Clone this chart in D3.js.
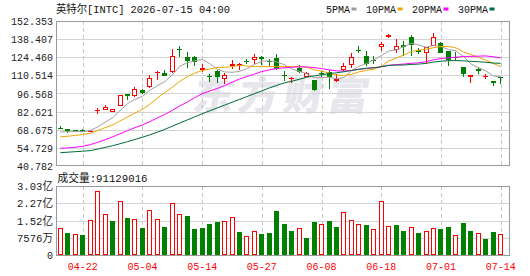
<!DOCTYPE html>
<html lang="zh">
<head>
<meta charset="UTF-8">
<title>英特尔 INTC 日K</title>
<script src="https://d3js.org/d3.v7.min.js"></script>
<style>
  body { margin: 0; background: #fff; }
  svg { display: block; }
  text { font-family: "Liberation Mono", "Noto Sans CJK SC", monospace; font-size: 11px; }
</style>
</head>
<body>
<svg id="chart"></svg>
<script>
const width = 530, height = 276;

// trading days
const dates = ["04-17","04-20","04-21","04-22","04-23","04-24","04-27","04-28","04-29","04-30",
  "05-01","05-04","05-05","05-06","05-07","05-08","05-11","05-12","05-13","05-14",
  "05-15","05-18","05-19","05-20","05-21","05-22","05-26","05-27","05-28","05-29",
  "06-01","06-02","06-03","06-04","06-05","06-08","06-09","06-10","06-11","06-12",
  "06-15","06-16","06-17","06-18","06-22","06-23","06-24","06-25","06-26","06-29",
  "06-30","07-01","07-02","07-06","07-07","07-08","07-09","07-10","07-13","07-14"];

const open = [70.2,69.0,68.3,68.8,67.3,83.0,84.0,82.2,87.1,95.9,
  94.3,99.6,101.4,112.0,112.2,113.0,130.6,124.5,124.8,115.0,
  110.0,114.0,108.1,117.4,117.8,121.3,122.5,124.8,121.6,124.0,
  110.6,107.8,116.4,109.4,107.1,112.0,113.0,106.3,114.3,118.6,
  130.4,125.6,122.4,132.7,139.9,130.4,134.0,140.2,129.8,128.1,
  133.3,135.5,129.2,125.0,116.8,108.9,115.5,109.6,106.3,108.9];
const high = [71.2,69.4,68.5,69.5,68.8,85.5,87.6,84.7,95.6,96.2,
  101.2,100.0,110.5,113.6,114.8,131.0,133.2,128.4,125.3,119.1,
  111.4,114.8,112.4,122.5,120.4,123.0,126.6,125.5,123.0,127.1,
  114.0,109.4,118.7,113.4,107.3,113.5,114.8,111.7,120.0,127.6,
  133.3,129.4,125.6,136.1,142.3,138.6,136.6,141.5,131.5,132.2,
  143.0,136.0,129.5,128.4,117.0,110.9,116.8,111.7,106.5,109.1];
const low = [69.6,66.5,67.9,66.8,67.0,80.7,83.5,82.0,86.8,91.5,
  93.5,96.5,101.0,107.1,110.0,112.6,125.0,116.1,117.4,113.0,
  105.5,104.3,104.0,115.3,114.5,118.9,118.9,118.6,117.4,115.0,
  106.3,105.0,112.7,109.0,98.5,109.6,100.4,105.3,113.5,116.0,
  127.6,117.4,118.9,128.9,139.5,127.6,125.8,125.8,126.6,119.9,
  133.0,127.6,118.1,121.5,109.1,105.0,111.7,108.1,102.7,104.0];
const close = [70.0,67.9,68.1,67.2,67.9,83.5,86.0,84.5,95.3,94.9,
  99.9,96.8,108.4,113.2,110.4,125.6,130.0,121.6,121.0,116.0,
  109.5,108.9,110.7,119.4,119.2,120.9,124.3,123.0,120.9,115.6,
  109.8,108.3,113.3,112.4,99.1,111.5,109.1,107.4,117.6,124.5,
  128.9,119.4,121.6,134.8,141.7,132.8,132.5,134.0,128.8,132.2,
  140.2,128.1,122.5,124.0,111.2,110.7,114.0,110.0,104.3,108.3];

// volume, millions of shares
const volumeM = [118,97.6,92,89,153,280,179,150,236,163,
  157,119,197,157,124,227,179,172,115,119,
  137,146,149,166,102,83,105,93,98,194,
  137,106,118,76,146,135,150,124,188,153,
  135,133,114,236,127,133,106,122,98,106,
  118,115,124,87,141,106,96,71,102,91.129016];

const ma5 = [67.0,67.2,67.3,67.4,68.0,70.9,74.5,77.8,83.4,88.8,
  92.1,94.3,99.1,102.6,105.7,110.9,117.5,120.2,121.7,122.8,
  119.6,115.4,113.2,112.9,113.5,115.8,118.9,121.4,121.7,120.9,
  118.7,115.5,113.6,111.9,108.6,108.9,109.1,107.9,108.9,114.0,
  117.5,119.6,122.4,125.8,129.3,130.1,132.7,135.2,134.0,132.1,
  133.5,132.7,130.4,129.4,125.2,119.3,116.5,114.0,110.0,109.5];
const ma10 = [63.2,63.7,64.3,65.0,65.9,68.0,70.3,72.4,75.4,78.5,
  81.5,84.4,88.4,93.0,97.3,101.5,105.9,109.6,112.2,114.3,
  115.3,116.5,116.7,117.3,118.2,117.7,117.2,117.3,117.3,117.2,
  117.3,117.2,117.5,116.8,114.8,113.8,112.3,110.7,110.4,111.3,
  113.2,114.3,115.2,117.4,121.7,123.8,126.1,128.8,129.9,130.7,
  131.8,132.7,132.8,131.7,128.6,126.4,124.6,122.2,119.7,117.3];
const ma20 = [54.4,54.7,55.2,56.0,57.2,59.0,61.0,63.2,65.6,68.0,
  70.3,72.4,75.0,77.8,80.4,83.6,87.0,90.0,93.3,96.4,
  98.4,100.4,102.6,105.2,107.7,109.6,111.5,113.5,114.7,115.8,
  116.3,116.8,117.1,117.0,116.5,115.8,114.7,114.0,113.8,114.3,
  115.2,115.8,116.3,117.1,118.2,118.8,119.2,119.8,120.2,121.0,
  122.5,123.5,124.0,124.5,125.1,125.1,125.3,125.5,124.8,124.0];
const ma30 = [51.0,51.4,51.8,52.2,52.6,53.8,55.1,56.4,57.9,59.5,
  61.2,62.9,64.8,66.8,69.0,71.4,73.8,76.2,78.6,81.0,
  83.2,85.4,87.6,89.8,92.0,94.2,96.4,98.6,100.8,102.8,
  104.7,106.0,107.5,109.0,110.1,111.0,111.8,112.5,113.3,114.3,
  115.2,116.0,116.4,117.2,118.2,118.4,118.5,118.9,119.2,119.7,
  120.8,121.4,121.8,121.9,121.7,121.3,121.0,120.6,120.0,119.8];

const tickDates = ["04-22","05-04","05-14","05-27","06-08","06-18","07-01","07-14"];
const priceTicks = [152.353,138.407,124.460,110.514,96.568,82.621,68.675,54.729,40.782];
const volTicks = [0,75.76,151.52,227.28,303.04];
const volTickLabels = ["0","7576万","1.52亿","2.27亿","3.03亿"];
const maNames = ["5PMA","10PMA","20PMA","30PMA"];

const maColors = ["#a0a0a0","#f2a500","#ff00ff","#006b33"];
const RED = "#ff0000", GREEN = "#008000";

const plot = {left: 56, right: 509, top: 21, bottom: 165};
const vplot = {left: 56, right: 509, top: 186, bottom: 255};

const svg = d3.select("#chart")
    .attr("width", width)
    .attr("height", height)
    .attr("viewBox", [0, 0, width, height]);

// SimSun-like widths: 6px latin, 12px CJK
function simWidth(s) {
  let w = 0;
  for (const ch of s) w += ch.charCodeAt(0) > 255 ? 12 : 6;
  return w;
}
function fitText(sel) {
  sel.attr("textLength", function() { return simWidth(this.textContent); })
     .attr("lengthAdjust", "spacingAndGlyphs");
}

const step = 7.464;
const x = d3.scaleBand()
    .domain(dates)
    .range([56.6, 56.6 + step * dates.length])
    .paddingInner(0.33)
    .paddingOuter(0.165);
const cx = d => x(d) + x.bandwidth() / 2;

const y = d3.scaleLinear().domain([40.782, 152.353]).range([166, 21]);
const yv = d3.scaleLinear().domain([0, 303.04]).range([vplot.bottom, vplot.top]);

// watermark
svg.append("text")
    .attr("x", 192).attr("y", 110)
    .attr("transform", "skewX(-10) translate(19,0)")
    .style("font-family", "Noto Sans CJK SC")
    .style("font-size", "40px")
    .style("font-weight", 900)
    .style("letter-spacing", "5px")
    .attr("fill", "#e6e6ec")
    .text("东方财富");

// grids
const grid = svg.append("g").attr("shape-rendering", "crispEdges");
grid.selectAll(".hp")
  .data(priceTicks.slice(1, -1))
  .join("line")
    .attr("x1", plot.left).attr("x2", plot.right)
    .attr("y1", d => Math.round(y(d)) + 0.5).attr("y2", d => Math.round(y(d)) + 0.5)
    .attr("stroke", "#d4d4d4");
grid.selectAll(".hv")
  .data(volTicks.slice(1, -1))
  .join("line")
    .attr("x1", vplot.left).attr("x2", vplot.right)
    .attr("y1", d => Math.round(yv(d)) + 0.5).attr("y2", d => Math.round(yv(d)) + 0.5)
    .attr("stroke", "#d4d4d4");
for (const p of [plot, vplot]) {
  grid.append("g").selectAll("line")
    .data(tickDates)
    .join("line")
      .attr("x1", d => Math.round(cx(d)) + 0.5).attr("x2", d => Math.round(cx(d)) + 0.5)
      .attr("y1", p.top).attr("y2", p.bottom)
      .attr("stroke", "#c8c8c8")
      .attr("stroke-dasharray", "4,3");
}

// candles
const data = dates.map((d, i) => ({d, o: open[i], h: high[i], l: low[i], c: close[i], v: volumeM[i],
  up: i === 0 ? true : close[i] >= close[i - 1]}));

const cg = svg.append("g").attr("shape-rendering", "crispEdges");
data.forEach(k => {
  const col = k.c > k.o ? RED : GREEN;
  const bx = Math.round(cx(k.d) - 2.5);
  const wx = bx + 2.5;
  cg.append("line")
    .attr("x1", wx).attr("x2", wx)
    .attr("y1", Math.round(y(k.h))).attr("y2", Math.round(y(k.l)))
    .attr("stroke", col);
  const yt = Math.round(y(Math.max(k.o, k.c)));
  const yb = Math.round(y(Math.min(k.o, k.c)));
  if (yb - yt < 2) {
    cg.append("rect").attr("x", bx).attr("y", yt).attr("width", 5).attr("height", Math.max(1, yb - yt))
      .attr("fill", col);
  } else if (k.c > k.o) {
    cg.append("rect").attr("x", bx + 0.5).attr("y", yt + 0.5).attr("width", 4).attr("height", yb - yt - 1)
      .attr("fill", "#fff").attr("stroke", RED);
  } else {
    cg.append("rect").attr("x", bx).attr("y", yt).attr("width", 5).attr("height", yb - yt)
      .attr("fill", GREEN);
  }
});

// volume bars
const vg = svg.append("g").attr("shape-rendering", "crispEdges");
data.forEach(k => {
  const bx = Math.round(cx(k.d) - 2.5);
  const yt = Math.round(yv(k.v));
  if (k.up) {
    vg.append("rect").attr("x", bx + 0.5).attr("y", yt + 0.5).attr("width", 4)
      .attr("height", vplot.bottom - yt - 1).attr("fill", "#fff").attr("stroke", RED);
  } else {
    vg.append("rect").attr("x", bx).attr("y", yt).attr("width", 5)
      .attr("height", vplot.bottom - yt).attr("fill", GREEN);
  }
});

// moving averages
const line = d3.line().x((v, i) => cx(dates[i])).y(v => y(v));
[ma5, ma10, ma20, ma30].forEach((s, j) => {
  svg.append("path")
    .attr("d", line(s))
    .attr("fill", "none")
    .attr("stroke", maColors[j])
    .attr("stroke-width", 1);
});

// frames
for (const p of [plot, vplot]) {
  svg.append("rect")
    .attr("x", p.left + 0.5).attr("y", p.top + 0.5)
    .attr("width", p.right - p.left).attr("height", p.bottom - p.top)
    .attr("fill", "none").attr("stroke", "#9a9a9a")
    .attr("shape-rendering", "crispEdges");
}

// axes
const ay = svg.append("g")
    .attr("transform", `translate(${plot.left},0)`)
    .call(d3.axisLeft(y).tickValues(priceTicks).tickFormat(d3.format(".3f")).tickSize(0).tickPadding(3));
const av = svg.append("g")
    .attr("transform", `translate(${vplot.left},0)`)
    .call(d3.axisLeft(yv).tickValues(volTicks).tickFormat((d, i) => volTickLabels[i]).tickSize(0).tickPadding(3));
const ax = svg.append("g")
    .attr("transform", `translate(0,${vplot.bottom + 4})`)
    .call(d3.axisBottom(x).tickValues(tickDates).tickSize(0).tickPadding(3));
for (const a of [ay, av, ax]) {
  a.select(".domain").remove();
  a.selectAll("text").attr("font-family", null).attr("font-size", null).call(fitText);
}
ay.selectAll("text").attr("fill", "#222");
av.selectAll("text").attr("fill", "#222");
ax.selectAll("text").attr("fill", RED);

// title + legend
svg.append("text").attr("x", 56).attr("y", 13).attr("fill", "#111")
    .text("英特尔[INTC] 2026-07-15 04:00").call(fitText);

let lx = 326;
maNames.forEach((n, j) => {
  svg.append("text").attr("x", lx).attr("y", 13).attr("fill", "#111").text(n).call(fitText);
  lx += simWidth(n) + 1.5;
  svg.append("rect").attr("x", lx).attr("y", 7.5).attr("width", 5).attr("height", 3)
    .attr("fill", maColors[j]);
  lx += 5 + 9.5;
});

svg.append("text").attr("x", 57.5).attr("y", 181.5).attr("fill", "#111")
    .text("成交量:" + Math.round(volumeM[volumeM.length - 1] * 1e6)).call(fitText);
</script>
</body>
</html>
